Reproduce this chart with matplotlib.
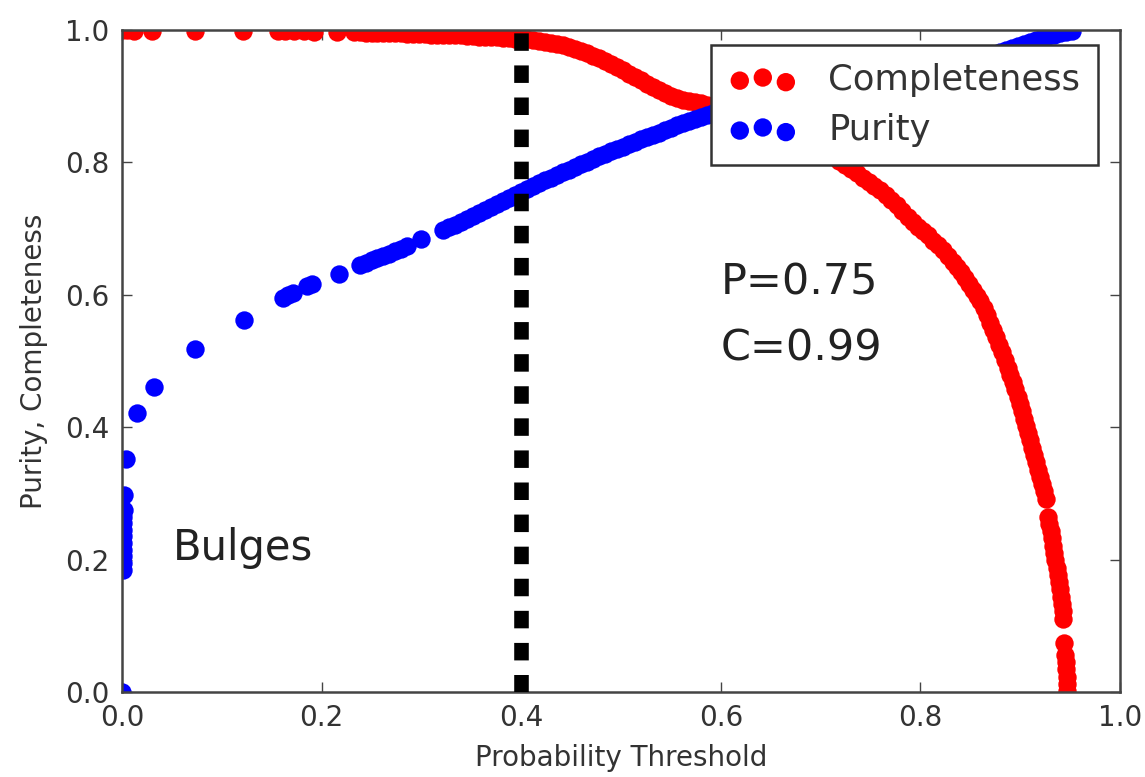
import matplotlib
matplotlib.use('Agg')
import matplotlib.pyplot as plt

comp_x_flat = [0.000, 0.005, 0.012, 0.030, 0.073, 0.121, 0.156, 0.163, 0.172, 0.182,
               0.192, 0.215,
               0.232, 0.238, 0.244, 0.250, 0.256, 0.262, 0.268, 0.274, 0.280, 0.286,
               0.292, 0.298, 0.304, 0.310, 0.316, 0.322, 0.328, 0.334, 0.340, 0.346,
               0.352, 0.358, 0.364, 0.370, 0.376, 0.382, 0.388, 0.394, 0.400]
comp_y_flat = [1.000, 1.000, 0.999, 0.999, 0.999, 0.999, 0.998, 0.998, 0.998, 0.998,
               0.997, 0.997,
               0.997, 0.997, 0.996, 0.996, 0.996, 0.995, 0.995, 0.995, 0.995, 0.994,
               0.994, 0.994, 0.994, 0.993, 0.993, 0.993, 0.993, 0.992, 0.992, 0.991,
               0.991, 0.990, 0.990, 0.989, 0.989, 0.988, 0.988, 0.987, 0.987]

comp_x_knee = [0.406, 0.412, 0.418, 0.424, 0.430, 0.436, 0.442, 0.448, 0.454, 0.460,
               0.466, 0.472, 0.478, 0.484, 0.490, 0.496, 0.502, 0.508, 0.514, 0.520,
               0.526, 0.532, 0.538, 0.544, 0.550, 0.556, 0.562, 0.568, 0.574, 0.580,
               0.586, 0.592, 0.598, 0.604, 0.616, 0.628, 0.640, 0.652, 0.664, 0.676,
               0.688, 0.700, 0.712]
comp_y_knee = [0.986, 0.985, 0.984, 0.982, 0.981, 0.979, 0.977, 0.974, 0.971, 0.968,
               0.965, 0.961, 0.957, 0.953, 0.949, 0.944, 0.939, 0.934, 0.929, 0.924,
               0.919, 0.914, 0.909, 0.905, 0.901, 0.898, 0.895, 0.893, 0.891, 0.889,
               0.887, 0.886, 0.884, 0.883, 0.879, 0.874, 0.868, 0.861, 0.853, 0.844,
               0.834, 0.823, 0.811]

comp_x_drop = [0.718, 0.724, 0.730, 0.736, 0.742, 0.748, 0.754, 0.760, 0.766, 0.771,
               0.777, 0.782, 0.788, 0.793, 0.798, 0.803, 0.808, 0.813, 0.818, 0.823,
               0.828, 0.833, 0.837, 0.841, 0.845, 0.849, 0.853, 0.857, 0.860, 0.864,
               0.867, 0.870, 0.873, 0.876, 0.879, 0.882, 0.885, 0.888, 0.890, 0.893,
               0.895, 0.898, 0.900, 0.902, 0.904, 0.906, 0.908, 0.910, 0.912, 0.914,
               0.916, 0.918, 0.920, 0.922, 0.924, 0.926,
               0.928, 0.929, 0.931, 0.932, 0.933, 0.934, 0.935, 0.937, 0.938, 0.939,
               0.940, 0.941, 0.942, 0.943, 0.943,
               0.944, 0.945, 0.946, 0.946, 0.947, 0.947, 0.947]
comp_y_drop = [0.802, 0.796, 0.790, 0.784, 0.777, 0.771, 0.764, 0.758, 0.751, 0.743,
               0.735, 0.727, 0.718, 0.710, 0.703, 0.697, 0.690, 0.682, 0.675, 0.667,
               0.659, 0.650, 0.642, 0.634, 0.625, 0.616, 0.607, 0.598, 0.590, 0.580,
               0.570, 0.558, 0.547, 0.536, 0.524, 0.513, 0.501, 0.490, 0.479, 0.468,
               0.457, 0.446, 0.435, 0.424, 0.413, 0.402, 0.391, 0.380, 0.369, 0.358,
               0.347, 0.336, 0.325, 0.314, 0.303, 0.292,
               0.265, 0.254, 0.243, 0.232, 0.221, 0.210, 0.199, 0.188, 0.177, 0.166,
               0.155, 0.144, 0.133, 0.122, 0.111,
               0.074, 0.056, 0.045, 0.034, 0.023, 0.012, 0.002]

# Purity of the bulge sample vs. probability cut
pur_x_low = [0.000, 0.001, 0.001, 0.001, 0.001, 0.001, 0.001, 0.001, 0.001, 0.001,
             0.002, 0.002, 0.004, 0.015, 0.032, 0.073, 0.122, 0.161, 0.166, 0.171,
             0.185, 0.190, 0.217,
             0.238, 0.244, 0.250, 0.256, 0.262, 0.268, 0.274, 0.280, 0.286, 0.300]
pur_y_low = [0.000, 0.185, 0.195, 0.205, 0.215, 0.225, 0.235, 0.245, 0.255, 0.265,
             0.275, 0.297, 0.352, 0.422, 0.461, 0.518, 0.562, 0.595, 0.599, 0.602,
             0.613, 0.617, 0.632,
             0.645, 0.648, 0.652, 0.655, 0.659, 0.662, 0.666, 0.669, 0.673, 0.684]

pur_x_mid = [0.322, 0.328, 0.334, 0.340, 0.346, 0.352, 0.358, 0.364, 0.370, 0.376,
             0.382, 0.388, 0.394, 0.400, 0.406, 0.412, 0.418, 0.424, 0.430, 0.436,
             0.442, 0.448, 0.454, 0.460, 0.466, 0.472, 0.478, 0.484, 0.490, 0.496,
             0.502, 0.508, 0.514, 0.520, 0.526, 0.532, 0.538, 0.544, 0.550, 0.556,
             0.562, 0.568, 0.574, 0.580, 0.586, 0.592, 0.598, 0.604]
pur_y_mid = [0.698, 0.702, 0.706, 0.710, 0.714, 0.719, 0.723, 0.728, 0.732, 0.737,
             0.742, 0.746, 0.751, 0.755, 0.760, 0.764, 0.769, 0.773, 0.777, 0.781,
             0.785, 0.789, 0.793, 0.797, 0.801, 0.805, 0.809, 0.813, 0.817, 0.820,
             0.824, 0.828, 0.831, 0.835, 0.838, 0.842, 0.845, 0.849, 0.852, 0.856,
             0.859, 0.862, 0.865, 0.868, 0.871, 0.874, 0.877, 0.880]

pur_x_high = [0.616, 0.628, 0.640, 0.652, 0.664, 0.676, 0.688, 0.700, 0.712, 0.724,
              0.736, 0.748, 0.760, 0.772, 0.784, 0.796, 0.808, 0.820, 0.832,
              0.838, 0.844, 0.850, 0.856, 0.862, 0.868, 0.874, 0.880, 0.886, 0.892,
              0.898, 0.904, 0.910, 0.916, 0.922, 0.928, 0.934, 0.940, 0.946, 0.952]
pur_y_high = [0.884, 0.888, 0.892, 0.896, 0.899, 0.903, 0.906, 0.910, 0.913, 0.917,
              0.920, 0.924, 0.927, 0.931, 0.934, 0.937, 0.941, 0.944, 0.948,
              0.950, 0.952, 0.954, 0.956, 0.959, 0.961, 0.964, 0.967, 0.970, 0.973,
              0.976, 0.979, 0.982, 0.985, 0.988, 0.991, 0.993, 0.995, 0.997, 0.999]

comp_thresh = comp_x_flat + comp_x_knee + comp_x_drop
completeness = comp_y_flat + comp_y_knee + comp_y_drop
pur_thresh = pur_x_low + pur_x_mid + pur_x_high
purity = pur_y_low + pur_y_mid + pur_y_high

chosen_cut = 0.4
p_at_cut = 0.75
c_at_cut = 0.99

tick_vals = [0.0, 0.2, 0.4, 0.6, 0.8, 1.0]

fig = plt.figure(figsize=(11.45, 7.77), dpi=100)
ax = fig.add_axes([122 / 1145, 1 - 692 / 777, 998 / 1145, 662 / 777])

ax.scatter(comp_thresh, completeness, s=175, c='red', linewidths=0, label='Completeness', zorder=2)
ax.scatter(pur_thresh, purity, s=175, c='blue', linewidths=0, label='Purity', zorder=2)

# the adopted cut
ax.plot([chosen_cut, chosen_cut], [0, 1], color='black', lw=10.5,
        linestyle=(0, (1.2, 1.0)), zorder=3)

ax.text(0.6, 0.6, 'P=%.2f' % p_at_cut, fontsize=31, color='#222222')
ax.text(0.6, 0.5, 'C=%.2f' % c_at_cut, fontsize=31, color='#222222')
ax.text(0.051, 0.2, 'Bulges', fontsize=30, color='#222222')

ax.set_xlim(0, 1)
ax.set_ylim(0, 1)
ax.set_xticks(tick_vals)
ax.set_yticks(tick_vals)
ax.tick_params(direction='in', length=7, width=1, top=True, right=True,
               labelsize=20, labelcolor='#333333', pad=9, color='#444444')
for sp in ax.spines.values():
    sp.set_linewidth(1.8)
    sp.set_color('#444444')

ax.set_xlabel('Probability Threshold', fontsize=20, color='#333333', labelpad=8)
ax.set_ylabel('Purity, Completeness', fontsize=20, color='#333333', labelpad=12)

leg = ax.legend(loc='upper right', bbox_to_anchor=(0.978, 0.977), borderaxespad=0,
                scatterpoints=3, scatteryoffsets=[0.375, 0.5, 0.3125],
                fontsize=25.5, fancybox=False, framealpha=1, edgecolor='#333333',
                handlelength=1.9, handletextpad=0.9, labelspacing=0.45,
                borderpad=0.5)
leg.get_frame().set_linewidth(1.8)
for t in leg.get_texts():
    t.set_color('#333333')

fig.savefig('out.png', dpi=100)
